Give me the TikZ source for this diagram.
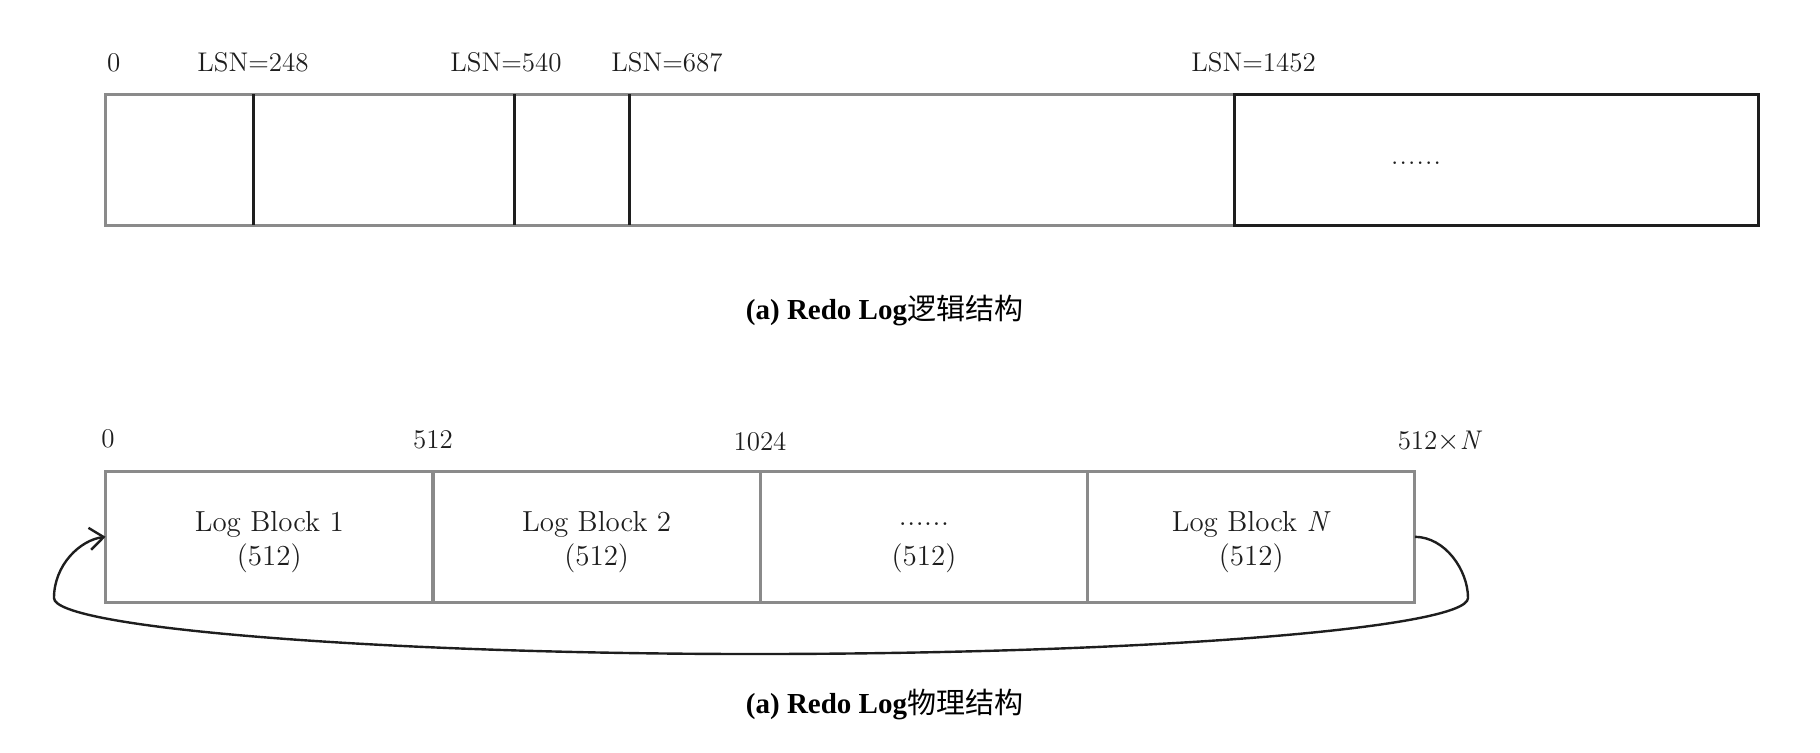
\documentclass[tikz,border=0pt]{standalone}
\usepackage{fontspec}
\newfontfamily\capfont{Liberation Serif}
\newfontfamily\cjk{Noto Sans CJK SC}
\usetikzlibrary{arrows.meta}
\definecolor{boxgray}{HTML}{8A8A8A}
\definecolor{inkdark}{HTML}{1E1E1E}
\newcommand{\sixdots}{\makebox[25pt]{.\hfill.\hfill.\hfill.\hfill.\hfill.}}
\begin{document}
\begin{tikzpicture}[x=0.5pt,y=-0.5pt,
  grayline/.style={draw=boxgray, line width=1.5pt},
  darkline/.style={draw=inkdark, line width=1.5pt},
  lbl/.style={font=\fontsize{13.5}{16}\selectfont, inner sep=0pt, text=inkdark},
  blk/.style={draw=boxgray, line width=1.5pt, minimum width=163.65pt, minimum height=65.6pt,
              inner sep=0pt, outer sep=0pt, align=center,
              font=\fontsize{14.5}{16.75}\selectfont, text=inkdark},
  caption/.style={font=\capfont\bfseries\fontsize{14.5}{17}\selectfont, inner sep=0pt},
  loop/.style={draw=inkdark, line width=1.2pt, -{Straight Barb[length=7pt,width=11pt,line width=1.2pt]}}]
\useasboundingbox (0,0) rectangle (1820,752);

% ---- logical structure ----
\draw[grayline] (1234,94) -- (105.6,94) -- (105.6,225.2) -- (1234,225.2);
\draw[darkline] (253,94) -- (253,225.2);
\draw[darkline] (514.2,94) -- (514.2,225.2);
\draw[darkline] (629.1,94) -- (629.1,225.2);
\draw[darkline] (1234,94) rectangle (1758.5,225.2);

\node[lbl] (t0) at (113.7,62.7) {0};
\node[lbl] (t248) at (253,62.7) {LSN=248};
\node[lbl] (t540) at (506,62.7) {LSN=540};
\node[lbl] (t687) at (667,62.7) {LSN=687};
\node[lbl] (t1452) at (1253.6,62.7) {LSN=1452};
\node[lbl] (tdots) at (1416,163) {\sixdots};

\node[caption] (cap1) at (884.5,310) {(a) Redo Log{\cjk\mdseries 逻辑结构}};

% ---- physical structure ----
\node[blk] (b1) at (269.3,536.8) {\rule{0pt}{15.3pt}Log Block 1\\(512)};
\node[blk] (b2) at (596.65,536.8) {\rule{0pt}{15.3pt}Log Block 2\\(512)};
\node[blk] (b3) at (923.95,536.8) {\rule{0pt}{15.3pt}\raisebox{3pt}{\sixdots}\\(512)};
\node[blk] (bN) at (1251.25,536.8) {\rule{0pt}{15.3pt}Log Block \textit{N}\\(512)};

\node[lbl] (p0) at (108,439) {0};
\node[lbl] (p512) at (433,440) {512};
\node[lbl] (p1024) at (760,442) {1024};
\node[lbl] (pN) at (1440,441) {512$\times$\textit{N}};

\draw[loop] (bN.east) .. controls (1445,537) and (1468,570) .. (1468,598)
  .. controls (1468,628) and (1150,654) .. (754,654)
  .. controls (380,654) and (54,628) .. (54,598)
  .. controls (54,565) and (80,540) .. (b1.west);

\node[caption] (cap2) at (884.5,704.5) {(a) Redo Log{\cjk\mdseries 物理结构}};
\end{tikzpicture}
\end{document}
